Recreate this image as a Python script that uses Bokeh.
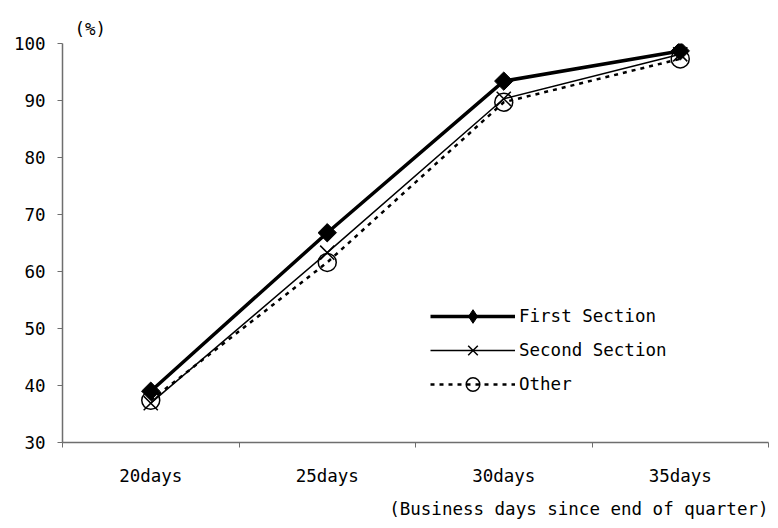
import numpy as np
from bokeh.plotting import figure
from bokeh.models import (FixedTicker, Legend, LegendItem, Title, Range1d)
from bokeh.embed import file_html
from bokeh.resources import INLINE

categories = ["20days", "25days", "30days", "35days"]
first_section = [39.0, 66.8, 93.4, 98.7]
second_section = [36.9, 63.3, 90.3, 98.1]
other = [37.4, 61.6, 89.7, 97.3]
y_ticks = [30, 40, 50, 60, 70, 80, 90, 100]

FONT = "DejaVu Sans Mono"
FS = "17.5px"

xs = [i + 0.5 for i in range(len(categories))]

p = figure(width=770, height=527, output_backend="svg", toolbar_location=None,
           x_range=Range1d(0, len(categories)), y_range=Range1d(30, 100),
           min_border_left=62, min_border_right=2, min_border_top=43,
           min_border_bottom=85)
p.outline_line_color = None
p.grid.visible = False
p.background_fill_color = "white"

r1 = p.line(xs, first_section, line_color="black", line_width=3.5)
m1 = p.scatter(xs, first_section, marker="square", angle=np.pi / 4, size=13,
               fill_color="black", line_color="black")
# diamond used only for the legend swatch (legend ignores marker angle)
m1_leg = p.scatter(xs, first_section, marker="diamond", size=13,
                   fill_color="black", line_color="black", visible=False)
r2 = p.line(xs, second_section, line_color="black", line_width=1.5)
m2 = p.scatter(xs, second_section, marker="x", size=20, line_color="black",
               line_width=1.5)
r3 = p.line(xs, other, line_color="black", line_width=2.5, line_dash="4 5")
m3 = p.scatter(xs, other, marker="circle", size=18, line_color="black",
               line_width=1.5, fill_alpha=0)

# axes
xa = p.xaxis[0]
xa.ticker = FixedTicker(ticks=xs, minor_ticks=list(range(len(categories) + 1)))
xa.major_label_overrides = {x: c for x, c in zip(xs, categories)}
xa.major_tick_out = 0
xa.major_tick_in = 0
xa.minor_tick_out = 5
xa.minor_tick_in = 0
xa.minor_tick_line_color = "#6e6e6e"
xa.axis_line_color = "#6e6e6e"
xa.axis_line_width = 1.5
xa.major_label_standoff = 18
xa.major_label_text_font = FONT
xa.major_label_text_font_size = FS
xa.major_label_text_color = "black"

ya = p.yaxis[0]
ya.ticker = FixedTicker(ticks=y_ticks, minor_ticks=[])
ya.major_tick_out = 5
ya.major_tick_in = 0
ya.major_tick_line_color = "#6e6e6e"
ya.axis_line_color = "#6e6e6e"
ya.axis_line_width = 1.5
ya.major_label_standoff = 12
ya.major_label_text_font = FONT
ya.major_label_text_font_size = FS
ya.major_label_text_color = "black"

p.add_layout(Title(text="(Business days since end of quarter)", align="right",
                   text_font=FONT, text_font_size=FS, text_font_style="normal",
                   text_color="black", standoff=17), "below")
p.add_layout(Title(text="(%)", align="left", offset=12,
                   text_font=FONT, text_font_size=FS, text_font_style="normal",
                   text_color="black", standoff=10), "above")

legend = Legend(items=[
    LegendItem(label="First Section", renderers=[r1, m1_leg]),
    LegendItem(label="Second Section", renderers=[r2, m2]),
    LegendItem(label="Other", renderers=[r3, m3]),
], location=(368, 41), glyph_width=85, glyph_height=34, label_height=34,
    spacing=0, padding=0, margin=0, label_standoff=4,
    border_line_alpha=0, background_fill_alpha=0, inactive_fill_alpha=0,
    label_text_font=FONT, label_text_font_size=FS, label_text_color="black")
p.add_layout(legend, "center")

open("out.html", "w").write(file_html(p, INLINE))
